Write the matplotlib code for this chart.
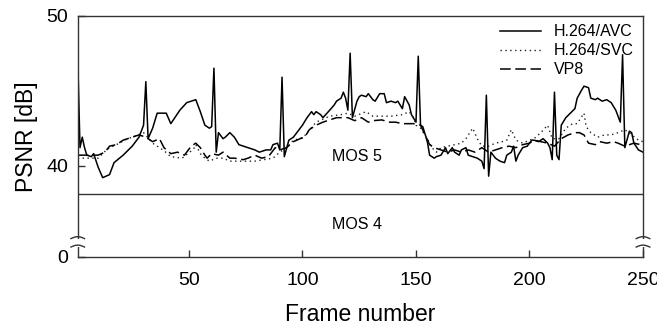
import matplotlib
matplotlib.use("Agg")
import matplotlib.pyplot as plt
import numpy as np

plt.rcParams['font.family'] = ['Liberation Sans', 'DejaVu Sans']

# PSNR per frame (frame, dB)
avc_frames = [1, 2, 3, 4, 5, 7, 8, 10, 12, 15, 17, 21, 25, 28, 30, 31, 32, 34, 36, 40,
              42, 46, 49, 53, 55, 57, 59, 60, 61, 62, 63, 65, 66, 68, 70, 72, 74, 76, 79, 81,
              84, 86, 87, 89, 90, 91, 92, 94, 96, 98, 100, 102, 104, 105, 106, 108, 109, 112, 114, 115,
              117, 118, 119, 120, 121, 122, 124, 125, 126, 128, 129, 131, 132, 134, 136, 137, 139, 141, 142, 144,
              145, 147, 148, 150, 151, 152, 153, 155, 156, 158, 159, 161, 163, 164, 166, 167, 169, 170, 172, 173,
              175, 177, 179, 180, 181, 182, 183, 185, 187, 189, 190, 192, 193, 194, 195, 197, 199, 201, 202, 204,
              206, 208, 209, 210, 211, 212, 213, 214, 216, 218, 220, 221, 223, 224, 226, 227, 229, 230, 232, 234,
              236, 238, 240, 241, 242, 244, 245, 246, 248, 250]
avc_psnr = [47.2, 41.2, 41.9, 41.2, 40.7, 40.6, 40.8, 39.9, 39.2, 39.4, 40.2, 40.7, 41.3, 41.9, 42.7, 45.6, 41.8, 42.5, 43.5, 43.5,
            42.8, 43.7, 44.2, 44.4, 43.6, 42.7, 42.5, 42.6, 46.5, 40.9, 42.2, 41.8, 41.9, 42.2, 41.9, 41.4, 41.3, 41.2, 41.05, 40.9,
            41.05, 41.05, 41.4, 41.5, 41.05, 45.9, 40.6, 41.7, 41.9, 42.3, 42.7, 43.2, 43.6, 43.4, 43.6, 43.4, 43.2, 43.7, 44.05, 44.3,
            44.5, 44.9, 44.5, 43.7, 47.5, 43.2, 44.3, 44.6, 44.7, 44.6, 44.8, 44.4, 44.3, 44.8, 44.8, 44.2, 44.3, 44.2, 44.3, 43.8,
            44.6, 44.05, 43.4, 42.9, 47.3, 42.7, 42.6, 41.6, 40.7, 40.5, 40.6, 40.7, 41.2, 40.8, 41.2, 40.9, 40.7, 41.05, 41.2, 40.7,
            40.6, 40.5, 40.3, 39.8, 44.7, 39.3, 40.9, 40.5, 40.3, 40.2, 40.7, 40.9, 41.3, 40.3, 40.7, 41.2, 41.3, 41.7, 41.7, 41.6,
            41.8, 41.5, 41.2, 40.4, 44.9, 40.7, 40.4, 42.7, 43.2, 43.5, 43.8, 44.5, 45.05, 45.3, 45.2, 44.5, 44.4, 44.5, 44.3, 44.4,
            44.2, 43.7, 42.9, 47.4, 41.2, 42.3, 42.2, 41.5, 41.05, 40.9]

svc_frames = [1, 5, 10, 14, 18, 23, 25, 30, 34, 39, 42, 47, 52, 53, 55, 57, 59, 62, 65, 68,
              72, 76, 79, 83, 87, 90, 93, 96, 99, 101, 106, 112, 117, 120, 123, 128, 131, 135, 139, 144,
              147, 149, 150, 152, 155, 157, 159, 161, 164, 167, 170, 172, 175, 177, 179, 182, 185, 188, 190, 192,
              194, 197, 200, 202, 205, 208, 210, 213, 216, 219, 221, 224, 225, 227, 230, 233, 236, 239, 242, 245,
              248, 250]
svc_psnr = [40.5, 40.5, 40.5, 41.1, 41.4, 41.8, 41.9, 42.2, 41.5, 41.0, 40.6, 40.5, 41.1, 41.4, 40.8, 40.5, 40.3, 40.5, 40.5, 40.3,
            40.3, 40.3, 40.3, 40.4, 40.5, 40.9, 41.2, 41.7, 41.8, 42.0, 42.9, 43.3, 43.4, 43.5, 43.3, 43.6, 43.3, 43.3, 43.3, 43.4,
            43.6, 43.2, 42.7, 42.5, 41.8, 41.2, 40.9, 41.2, 41.3, 41.4, 41.5, 41.8, 42.5, 41.8, 41.3, 41.3, 41.5, 41.6, 41.7, 42.4,
            41.7, 41.5, 41.7, 41.8, 42.2, 42.7, 41.8, 41.8, 42.5, 42.8, 42.8, 43.5, 42.6, 42.2, 41.9, 42.05, 42.05, 42.2, 42.4, 42.05,
            41.7, 41.6]

vp8_frames = [1, 5, 10, 13, 15, 18, 21, 25, 28, 31, 34, 37, 39, 42, 45, 48, 51, 53, 55, 57,
              58, 60, 63, 65, 68, 70, 74, 76, 79, 82, 85, 88, 90, 93, 96, 99, 101, 103, 106, 109,
              112, 115, 117, 120, 123, 126, 129, 131, 135, 138, 141, 144, 147, 150, 152, 154, 156, 158, 161, 164,
              167, 170, 173, 176, 179, 182, 185, 188, 191, 194, 197, 200, 202, 205, 208, 211, 214, 217, 220, 222,
              224, 226, 229, 231, 234, 237, 239, 242, 244, 246, 249, 250]
vp8_psnr = [40.7, 40.7, 40.7, 40.9, 41.3, 41.4, 41.7, 41.9, 42.05, 41.9, 41.6, 41.8, 41.2, 40.8, 40.9, 40.7, 41.3, 41.5, 41.2, 40.7,
            40.5, 40.8, 40.7, 40.9, 40.5, 40.5, 40.4, 40.5, 40.7, 40.5, 40.6, 41.2, 41.05, 41.2, 41.6, 41.8, 41.9, 42.4, 42.7, 42.9,
            43.05, 43.2, 43.2, 43.2, 43.0, 43.2, 42.9, 43.0, 43.05, 42.9, 42.9, 42.8, 42.8, 42.8, 42.7, 42.05, 41.4, 41.2, 41.05, 40.9,
            41.05, 40.9, 41.05, 40.9, 41.2, 40.9, 41.05, 41.2, 41.3, 41.2, 41.4, 41.5, 41.7, 41.6, 41.5, 41.3, 41.8, 42.05, 42.2, 42.2,
            42.05, 41.5, 41.4, 41.6, 41.5, 41.6, 41.5, 41.3, 41.4, 41.5, 41.4, 41.3]

mos_threshold = 38.1
y_bottom = 33.93   # where the broken axis shows "0"

fig = plt.figure(figsize=(6.57, 3.29), dpi=100)
ax = fig.add_axes([0.1183, 0.2198, 0.8604, 0.7325])

ax.plot(avc_frames, avc_psnr, color='black', lw=1.1, label='H.264/AVC')
ax.plot(svc_frames, svc_psnr, color='#222222', lw=1.0, linestyle=(0, (1, 2.5)), label='H.264/SVC')
ax.plot(vp8_frames, vp8_psnr, color='black', lw=1.1, linestyle=(0, (7, 3)), label='VP8')

ax.axhline(mos_threshold, color='#333333', lw=1.0)
ax.text(124, 40.6, 'MOS 5', ha='center', va='center', fontsize=11.5)
ax.text(124, 36.1, 'MOS 4', ha='center', va='center', fontsize=11.5)

ax.set_xlim(1, 250)
ax.set_ylim(y_bottom, 50)
ax.set_xticks([50, 100, 150, 200, 250])
ax.set_yticks([y_bottom, 40, 50])
ax.set_yticklabels(['0', '40', '50'])
ax.tick_params(axis='both', direction='in', length=5, width=1, color='#333333', labelsize=14)
ax.tick_params(axis='x', pad=11)
ax.tick_params(axis='y', pad=7)
for s in ax.spines.values():
    s.set_color('#333333')
    s.set_linewidth(1.0)

ax.set_xlabel('Frame number', fontsize=16.5, labelpad=10)
ax.set_ylabel('PSNR [dB]', fontsize=16.5, labelpad=6)

# axis break marks on both vertical spines
t = np.linspace(0, 1, 20)
for xa in (0.0, 1.0):
    ax.add_patch(plt.Rectangle((xa - 0.01, 0.04), 0.02, 0.035, transform=ax.transAxes,
                               facecolor='white', edgecolor='none', clip_on=False, zorder=5))
    for yb in (0.04, 0.075):
        xs = xa - 0.012 + 0.024 * t
        ys = yb + 0.008 * np.sin(np.pi * t)
        ax.plot(xs, ys, transform=ax.transAxes, color='#333333', lw=1.0, clip_on=False, zorder=6)

leg = ax.legend(loc='upper right', bbox_to_anchor=(1.0, 1.0), frameon=False, fontsize=11.5,
                handlelength=2.6, handletextpad=0.8, labelspacing=0.25, borderpad=0.55,
                borderaxespad=0.0)

fig.savefig('out.png', dpi=100)
